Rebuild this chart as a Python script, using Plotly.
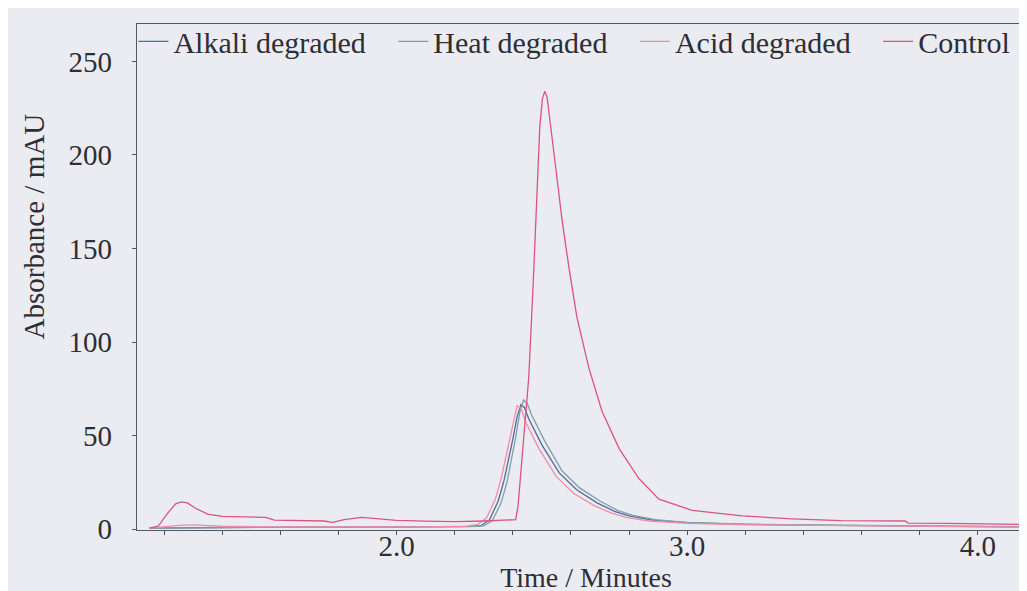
import plotly.graph_objects as go

# chromatogram traces (time in minutes, absorbance in mAU)
t_alkali = [1.15, 1.30, 1.50, 1.70, 1.90, 2.10, 2.25, 2.29, 2.32, 2.35, 2.37, 2.40, 2.415,
            2.428, 2.44, 2.455, 2.50, 2.56, 2.62, 2.69, 2.75, 2.80, 2.88, 3.00, 3.20,
            3.50, 3.80, 4.15]
y_alkali = [0.5, 0.8, 1.0, 1.2, 1.0, 1.2, 1.4, 1.8, 5, 15, 26, 48, 60,
            66.5, 65, 59, 45, 30, 21, 14, 9.5, 7, 4.8, 3.4, 2.5,
            2.0, 1.6, 1.2]

t_heat = [1.15, 1.30, 1.50, 1.70, 1.90, 2.10, 2.25, 2.30, 2.33, 2.36, 2.38, 2.41, 2.425,
          2.437, 2.45, 2.465, 2.51, 2.57, 2.63, 2.70, 2.76, 2.81, 2.89, 3.00, 3.20,
          3.50, 3.80, 4.15]
y_heat = [0.4, 0.6, 0.9, 1.1, 0.9, 1.1, 1.3, 1.7, 4.5, 14, 25, 49, 63,
          69, 67, 61, 47, 31, 22, 15, 10, 7.5, 5, 3.5, 2.6,
          2.1, 1.7, 1.3]

t_acid = [1.15, 1.25, 1.30, 1.40, 1.60, 1.90, 2.10, 2.24, 2.28, 2.31, 2.34, 2.36, 2.39, 2.405,
          2.415, 2.43, 2.445, 2.49, 2.55, 2.61, 2.68, 2.74, 2.79, 2.87, 3.00, 3.20,
          3.50, 3.80, 4.15]
y_acid = [0.5, 2.0, 2.2, 1.5, 1.2, 1.0, 1.2, 1.5, 2.5, 6, 16, 27, 49, 60,
          66, 64, 57, 43, 28, 19, 12.5, 8.5, 6.3, 4.3, 3.0, 2.3,
          1.8, 1.4, 1.0]

t_control = [1.15, 1.18, 1.21, 1.24, 1.26, 1.28, 1.31, 1.35, 1.40, 1.50, 1.55, 1.58, 1.65,
             1.75, 1.78, 1.82, 1.88, 1.94, 2.00, 2.10, 2.20, 2.30, 2.38, 2.41, 2.418,
             2.428, 2.44, 2.455, 2.47, 2.483, 2.493, 2.502, 2.51, 2.518, 2.526, 2.536,
             2.548, 2.569, 2.593, 2.621, 2.662, 2.707, 2.766, 2.834, 2.903, 3.017, 3.19,
             3.36, 3.53, 3.75, 3.76, 3.90, 4.07, 4.15]
y_control = [0.5, 1.5, 8, 13.5, 14.5, 14, 11, 8, 6.8, 6.5, 6.3, 4.8, 4.5,
             4.3, 3.6, 5.0, 6.3, 5.3, 4.6, 4.2, 4.0, 4.3, 4.6, 5, 12,
             30, 55, 81, 130, 180, 215, 230, 234, 231, 220, 207,
             193, 166, 140, 113, 86, 63, 43, 27, 16, 10, 7,
             5.5, 4.5, 4.3, 3.2, 3.0, 2.7, 2.5]

names = ["Alkali degraded", "Heat degraded", "Acid degraded", "Control"]
colors = ["#56699a", "#7f9fab", "#ef8ea6", "#da557d"]

pad = "\u00a0\u00a0\u00a0"  # wider gaps between legend entries, like the original
series = [
    (names[0], t_alkali, y_alkali, colors[0]),
    (names[1], t_heat, y_heat, colors[1]),
    (names[2], t_acid, y_acid, colors[2]),
    (names[3], t_control, y_control, colors[3]),
]

fig = go.Figure()
for i, (name, t, y, col) in enumerate(series):
    label = name + pad if i < len(series) - 1 else name
    fig.add_trace(go.Scatter(x=t, y=y, mode="lines", name=label,
                             line=dict(color=col, width=1.3)))

font = "Liberation Serif, Times New Roman, serif"
bg = "#ebebf2"
axc = "#55555c"

fig.update_layout(
    width=1027, height=591,
    margin=dict(l=129, r=0, t=16, b=69),
    paper_bgcolor=bg, plot_bgcolor=bg,
    font=dict(family=font, size=27, color="#2e2e35"),
    legend=dict(orientation="h", x=-0.004, y=1.017, xanchor="left", yanchor="top",
                bgcolor="rgba(0,0,0,0)", font=dict(size=30), itemwidth=30),
    xaxis=dict(range=[1.107, 4.197], dtick=1, tick0=0, tickformat=".1f",
               showgrid=False, zeroline=False, showline=True, mirror=True,
               linecolor=axc, linewidth=1.2,
               ticks="outside", ticklen=4, tickcolor=axc,
               tickfont=dict(size=29), ticklabelstandoff=-14,
               minor=dict(dtick=0.2, tick0=0, ticks="outside", ticklen=4,
                          tickcolor=axc),
               title=dict(text="Time / Minutes", standoff=0, font=dict(size=28)),
               automargin=False),
    yaxis=dict(range=[-0.5, 270], dtick=50, showgrid=False, zeroline=False,
               showline=True, mirror=False, linecolor=axc, linewidth=1.2,
               ticks="outside", ticklen=4, tickcolor=axc,
               tickfont=dict(size=29), ticklabelstandoff=14,
               automargin=False),
)

# the y title sits above the middle of the axis in the original, so place it by hand
fig.add_annotation(text="Absorbance / mAU", textangle=-90, showarrow=False,
                   xref="paper", yref="paper", x=0, y=0.6,
                   xanchor="center", yanchor="middle", xshift=-103,
                   font=dict(size=29))

fig.write_html("out.html")
